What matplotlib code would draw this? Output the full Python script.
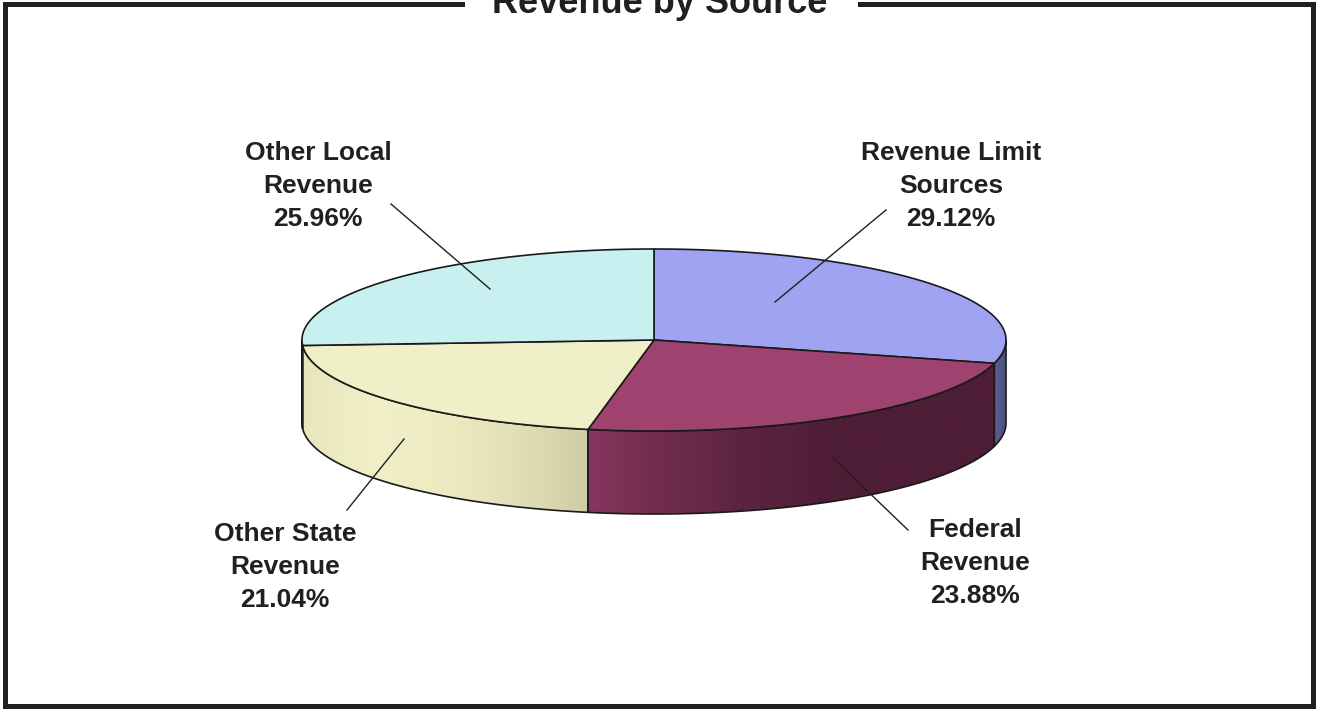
import numpy as np
import matplotlib
matplotlib.use("Agg")
import matplotlib.pyplot as plt
from matplotlib.patches import Polygon
from matplotlib.colors import LinearSegmentedColormap

title = "Revenue by Source"
categories = ["Revenue Limit\nSources", "Federal\nRevenue", "Other State\nRevenue", "Other Local\nRevenue"]
shares = [29.12, 23.88, 21.04, 25.96]
top_colors = ["#a0a2f2", "#a04270", "#f0f0c8", "#c8f0f0"]
side_ramps = [
    ["#5a5e92", "#4e5280"],
    ["#86365f", "#6e2b4c", "#5a2340", "#4e1d36", "#4e1d36", "#4e1d36"],
    ["#e8e6bc", "#f0efc8", "#eeebc2", "#e2dfb6", "#cfcca6"],
    ["#e8e6bc", "#e8e6bc"],
]
label_xy = [(951, 186), (975, 563), (285, 567), (318, 186)]
leader_ends = [((886, 210), (775, 302)), ((908, 530), (832, 457)), ((347, 510), (404, 439)), ((391, 204), (490, 289))]

CX, CY, RX, RY, DEPTH = 654, 340, 352, 91, 83
INK = "#231f20"

fig = plt.figure(figsize=(13.17, 7.09), dpi=100)
ax = fig.add_axes([0, 0, 1, 1])
ax.set_xlim(0, 1317)
ax.set_ylim(709, 0)
ax.axis("off")


def rim(theta, dy=0):
    return np.column_stack([CX + RX * np.cos(theta), CY + RY * np.sin(theta) + dy])


# Frame with a gap for the title
ax.plot([462, 5, 5, 1313, 1313, 860], [3.5, 3.5, 706, 706, 3.5, 3.5], color=INK, lw=3.6, solid_joinstyle="miter")
ax.text(660, 13, title, ha="center", va="baseline", fontsize=26, fontweight="bold",
        family="Liberation Sans", color=INK)

# Angles measured clockwise from twelve o'clock (y axis points down)
edges = np.radians(-90 + np.cumsum([0] + shares) * 3.6)

# Sides: only the part of each slice that faces the viewer (0..180 deg)
for i in range(4):
    a0, a1 = max(edges[i], 0), min(edges[i + 1], np.pi)
    if a1 <= a0:
        continue
    t = np.linspace(a0, a1, 200)
    poly = np.vstack([rim(t), rim(t[::-1], DEPTH)])
    patch = Polygon(poly, closed=True, fc="none", ec="none", zorder=2)
    ax.add_patch(patch)
    cmap = LinearSegmentedColormap.from_list("s", side_ramps[i])
    x0, x1 = poly[:, 0].min(), poly[:, 0].max()
    y0, y1 = poly[:, 1].min(), poly[:, 1].max()
    im = ax.imshow(np.linspace(1, 0, 256)[None, :], cmap=cmap, aspect="auto",
                   extent=[x1, x0, y1, y0], zorder=2, interpolation="bilinear")
    im.set_clip_path(patch)
    ax.add_patch(Polygon(poly, closed=True, fc="none", ec="#1a1a1a", lw=1.2, zorder=3, joinstyle="round"))

ax.set_xlim(0, 1317)
ax.set_ylim(709, 0)

# Top faces
for i in range(4):
    t = np.linspace(edges[i], edges[i + 1], 300)
    poly = np.vstack([[CX, CY], rim(t)])
    ax.add_patch(Polygon(poly, closed=True, fc=top_colors[i], ec="#1a1a1a", lw=1.2, zorder=4, joinstyle="round"))

# Leaders and labels
for i in range(4):
    (xa, ya), (xb, yb) = leader_ends[i]
    ax.plot([xa, xb], [ya, yb], color=INK, lw=1.0, zorder=6)
    ax.text(*label_xy[i], f"{categories[i]}\n{shares[i]:.2f}%", ha="center", va="center",
            fontsize=19, fontweight="bold", family="Liberation Sans", color=INK,
            linespacing=1.45, zorder=7)

fig.savefig("out.png", dpi=100, facecolor="white")
